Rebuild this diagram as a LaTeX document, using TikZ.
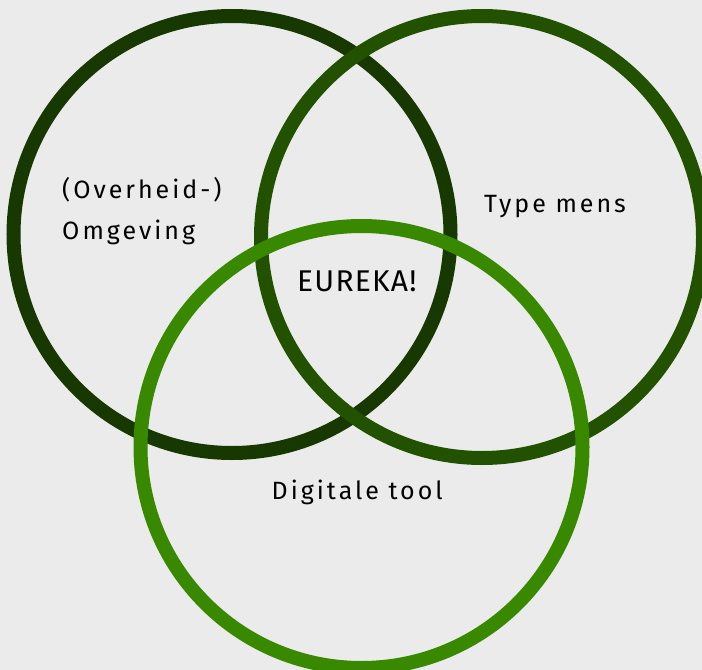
\documentclass[tikz,border=0pt]{standalone}
\usepackage{fontspec}
\setmainfont{Fira Sans}
\newfontfamily\labelfont[LetterSpace=12]{Fira Sans}
\newfontfamily\eurekafont[LetterSpace=4]{Fira Sans}
\definecolor{bgcol}{HTML}{EBEBEB}
\definecolor{ringdark}{HTML}{173800}
\definecolor{ringmid}{HTML}{225200}
\definecolor{ringlight}{HTML}{388800}
\begin{document}
\begin{tikzpicture}[x=1bp,y=-1bp,
  ring/.style={line width=14bp},
  lbl/.style={inner sep=0pt,anchor=base west,text=black,
    font=\labelfont\fontsize{25bp}{30bp}\selectfont},
  bigword/.style={inner sep=0pt,anchor=base west,text=black,
    font=\eurekafont\fontsize{30bp}{36bp}\selectfont}]
  % canvas
  \fill[bgcol] (0,0) rectangle (702,670);
  \clip (0,0) rectangle (702,670);
  % the three sets
  \draw[ring,ringdark]  (232,234.5) circle[radius=218.5];
  \draw[ring,ringmid]   (482,237)   circle[radius=221];
  \draw[ring,ringlight] (361.5,447) circle[radius=221];
  % labels
  \node[lbl] (env1) at (62,198) {(Overheid-)};
  \node[lbl] (env2) at (62,239) {Omgeving};
  \node[lbl] (person) at (484,212) {Type mens};
  \node[bigword] (core) at (297,291.5) {EUREKA!};
  \node[lbl] (tool) at (271.5,499) {Digitale tool};
\end{tikzpicture}
\end{document}
